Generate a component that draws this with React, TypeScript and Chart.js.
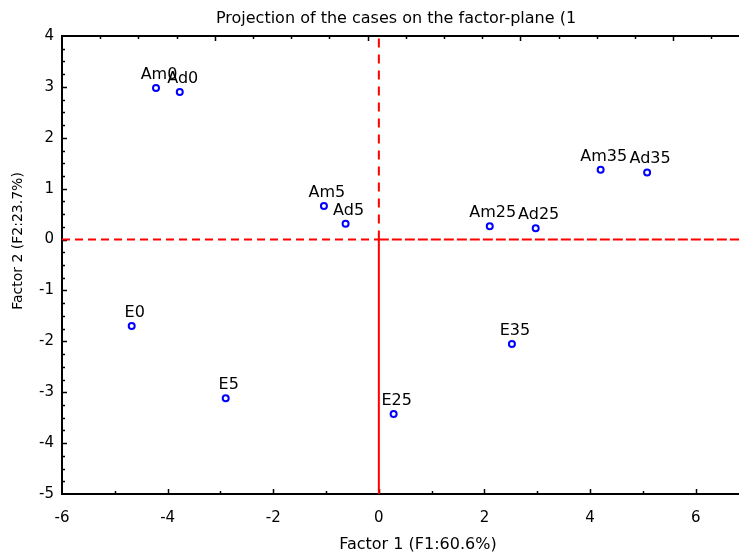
import React, { useEffect, useRef } from "react";
import { Chart, registerables } from "chart.js";
Chart.register(...registerables);

const TITLE = "Projection of the cases on the factor-plane (1";
const X_TITLE = "Factor 1 (F1:60.6%)";
const Y_TITLE = "Factor 2 (F2:23.7%)";

const caseLabels = ["Am0", "Ad0", "Am5", "Ad5", "Am25", "Ad25", "Am35", "Ad35", "E0", "E5", "E25", "E35"];
const factor1 = [-4.22, -3.77, -1.04, -0.63, 2.1, 2.97, 4.2, 5.08, -4.68, -2.9, 0.28, 2.52];
const factor2 = [2.98, 2.9, 0.66, 0.31, 0.26, 0.22, 1.37, 1.32, -1.7, -3.12, -3.43, -2.05];

const xTickValues = [-6, -4, -2, 0, 2, 4, 6];
const yTickValues = [-5, -4, -3, -2, -1, 0, 1, 2, 3, 4];
const X_MIN = -6;
const X_MAX = 6.82;
const Y_MIN = -5;
const Y_MAX = 4;
const TOP_MAX = 17.72;

const FONT = "'DejaVu Sans', sans-serif";

const framePlugin = {
  id: "frame",
  beforeDatasetsDraw(chart: any) {
    const { ctx, chartArea: a, scales } = chart;
    const x = scales.x;
    const y = scales.y;
    const x2 = scales.x2;
    ctx.save();
    ctx.strokeStyle = "#000";
    ctx.lineWidth = 2;
    ctx.beginPath();
    ctx.moveTo(a.left, a.top);
    ctx.lineTo(a.right + 2, a.top);
    ctx.moveTo(a.left, a.top - 1);
    ctx.lineTo(a.left, a.bottom);
    ctx.lineTo(a.right + 2, a.bottom);
    ctx.stroke();
    ctx.lineWidth = 1.5;
    ctx.beginPath();
    for (let v = X_MIN + 1; v <= X_MAX; v += 1) {
      const px = Math.round(x.getPixelForValue(v)) + 0.5;
      const len = v % 2 === 0 ? 5 : 3;
      ctx.moveTo(px, a.bottom);
      ctx.lineTo(px, a.bottom - len);
    }
    for (let k = 1; k <= TOP_MAX; k += 1) {
      const px = Math.round(x2.getPixelForValue(k)) + 0.5;
      const len = k % 4 === 0 ? 5 : 3;
      ctx.moveTo(px, a.top);
      ctx.lineTo(px, a.top + len);
    }
    for (let i = 1; i < (Y_MAX - Y_MIN) * 4; i += 1) {
      const v = Y_MIN + i * 0.25;
      const py = Math.round(y.getPixelForValue(v)) + 0.5;
      const len = i % 4 === 0 ? 5 : 3;
      ctx.moveTo(a.left, py);
      ctx.lineTo(a.left + len, py);
    }
    ctx.stroke();
    ctx.restore();
  },
  afterDatasetsDraw(chart: any) {
    const { ctx, scales } = chart;
    const x = scales.x;
    ctx.save();
    ctx.fillStyle = "#000";
    const meta = chart.getDatasetMeta(0);
    ctx.font = `16px ${FONT}`;
    ctx.textAlign = "center";
    ctx.textBaseline = "alphabetic";
    meta.data.forEach((el: any, i: number) => {
      ctx.fillText(caseLabels[i], el.x + 3, el.y - 9);
    });
    ctx.font = `16px ${FONT}`;
    ctx.fillText(TITLE, 396, 23);
    const cx = (x.getPixelForValue(-6) + x.getPixelForValue(7.48)) / 2;
    ctx.font = `16px ${FONT}`;
    ctx.fillText(X_TITLE, cx, 549);
    ctx.translate(18, 241);
    ctx.rotate(-Math.PI / 2);
    ctx.textBaseline = "middle";
    ctx.font = `14px ${FONT}`;
    ctx.fillText(Y_TITLE, 0, 0);
    ctx.restore();
  },
};

export default function App() {
  const ref = useRef<HTMLCanvasElement | null>(null);
  useEffect(() => {
    if (!ref.current) return;
    const chart = new Chart(ref.current, {
      type: "scatter",
      data: {
        datasets: [
          {
            order: 0,
            data: factor1.map((v, i) => ({ x: v, y: factor2[i] })),
            pointRadius: 3,
            pointBorderWidth: 2,
            pointBorderColor: "#0000ff",
            pointBackgroundColor: "#ffffff",
            showLine: false,
          },
          {
            order: 1,
            data: [{ x: 0, y: 0 }, { x: 0, y: Y_MAX }],
            showLine: true,
            borderColor: "#ff0000",
            borderWidth: 2,
            borderDash: [9, 7],
            pointRadius: 0,
          },
          {
            order: 1,
            data: [{ x: 0, y: Y_MIN }, { x: 0, y: 0 }],
            showLine: true,
            borderColor: "#ff0000",
            borderWidth: 2,
            pointRadius: 0,
          },
          {
            order: 1,
            data: [{ x: X_MIN, y: 0 }, { x: 0, y: 0 }],
            showLine: true,
            borderColor: "#ff0000",
            borderWidth: 2,
            borderDash: [8, 5],
            pointRadius: 0,
          },
          {
            order: 1,
            data: [{ x: 0, y: 0 }, { x: X_MAX, y: 0 }],
            showLine: true,
            borderColor: "#ff0000",
            borderWidth: 2,
            borderDash: [10, 3],
            pointRadius: 0,
          },
        ],
      },
      options: {
        animation: false,
        responsive: false,
        layout: { padding: 0, autoPadding: false },
        plugins: {
          legend: { display: false },
          tooltip: { enabled: false },
          title: { display: false },
        },
        scales: {
          x: {
            type: "linear",
            position: "bottom",
            min: X_MIN,
            max: X_MAX,
            afterFit: (s: any) => {
              s.height = 60;
            },
            afterBuildTicks: (s: any) => {
              s.ticks = xTickValues.map((v) => ({ value: v }));
            },
            grid: { display: false, drawTicks: false },
            border: { display: false },
            ticks: {
              font: { family: FONT, size: 15 },
              color: "#000",
              padding: 15,
              maxRotation: 0,
            },
          },
          x2: {
            type: "linear",
            position: "top",
            min: 0,
            max: TOP_MAX,
            afterFit: (s: any) => {
              s.height = 36;
            },
            grid: { display: false, drawTicks: false },
            border: { display: false },
            ticks: { display: false },
          },
          y: {
            type: "linear",
            position: "left",
            min: Y_MIN,
            max: Y_MAX,
            afterFit: (s: any) => {
              s.width = 62;
            },
            afterBuildTicks: (s: any) => {
              s.ticks = yTickValues.map((v) => ({ value: v }));
            },
            grid: { display: false, drawTicks: false },
            border: { display: false },
            ticks: {
              font: { family: FONT, size: 15 },
              color: "#000",
              padding: 8,
            },
          },
        },
      },
      plugins: [framePlugin],
    } as any);
    return () => chart.destroy();
  }, []);
  return (
    <div style={{ position: "fixed", left: 0, top: 0, width: 739, height: 554, background: "#fff", overflow: "hidden" }}>
      <canvas ref={ref} width={739} height={554} style={{ display: "block" }} />
    </div>
  );
}
